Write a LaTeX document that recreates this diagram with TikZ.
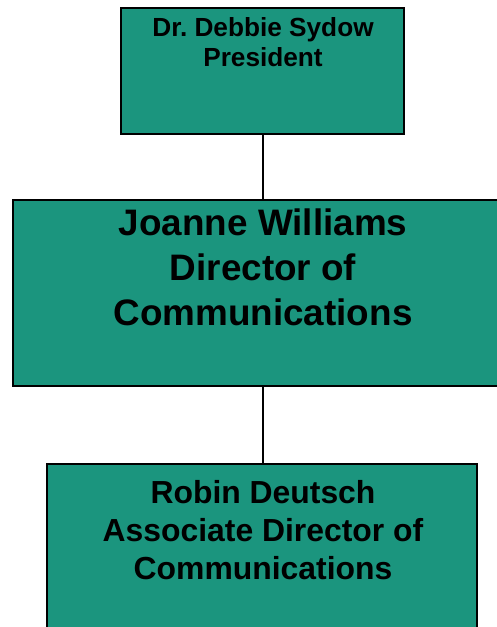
\documentclass[tikz,border=0pt]{standalone}
\usepackage{fontspec}
\setmainfont{Liberation Sans}
\frenchspacing
\definecolor{orggreen}{RGB}{27,149,126}
\begin{document}
\begin{tikzpicture}[x=1bp,y=-1bp,
    orgbox/.style={draw=black,line width=2bp,fill=orggreen,inner sep=0pt},
    orgtext/.style={anchor=base,align=center,inner sep=0pt}]
    \useasboundingbox (0,0) rectangle (497,627);
    \node[orgbox,minimum width=283bp,minimum height=126bp] (pres) at (262.5,71) {};
    \node[orgbox,minimum width=500bp,minimum height=186bp] (dir) at (263,293) {};
    \node[orgbox,minimum width=430bp,minimum height=186bp] (assoc) at (262,557) {};

    % base anchor sits on the last line
    \node[orgtext,font=\fontsize{26.3}{31}\selectfont\bfseries] (prest) at (263,67) {Dr. Debbie Sydow\\President};
    \node[orgtext,font=\fontsize{37}{45}\selectfont\bfseries] (dirt) at (263,325) {Joanne Williams\\Director of\\Communications};
    \node[orgtext,font=\fontsize{32}{38}\selectfont\bfseries] (assoct) at (263,579) {Robin Deutsch\\Associate Director of\\Communications};

    \draw[line width=2bp] (pres.south -| dir.north) -- (dir.north);
    \draw[line width=2bp] (dir.south) -- (dir.south |- assoc.north);
\end{tikzpicture}
\end{document}
